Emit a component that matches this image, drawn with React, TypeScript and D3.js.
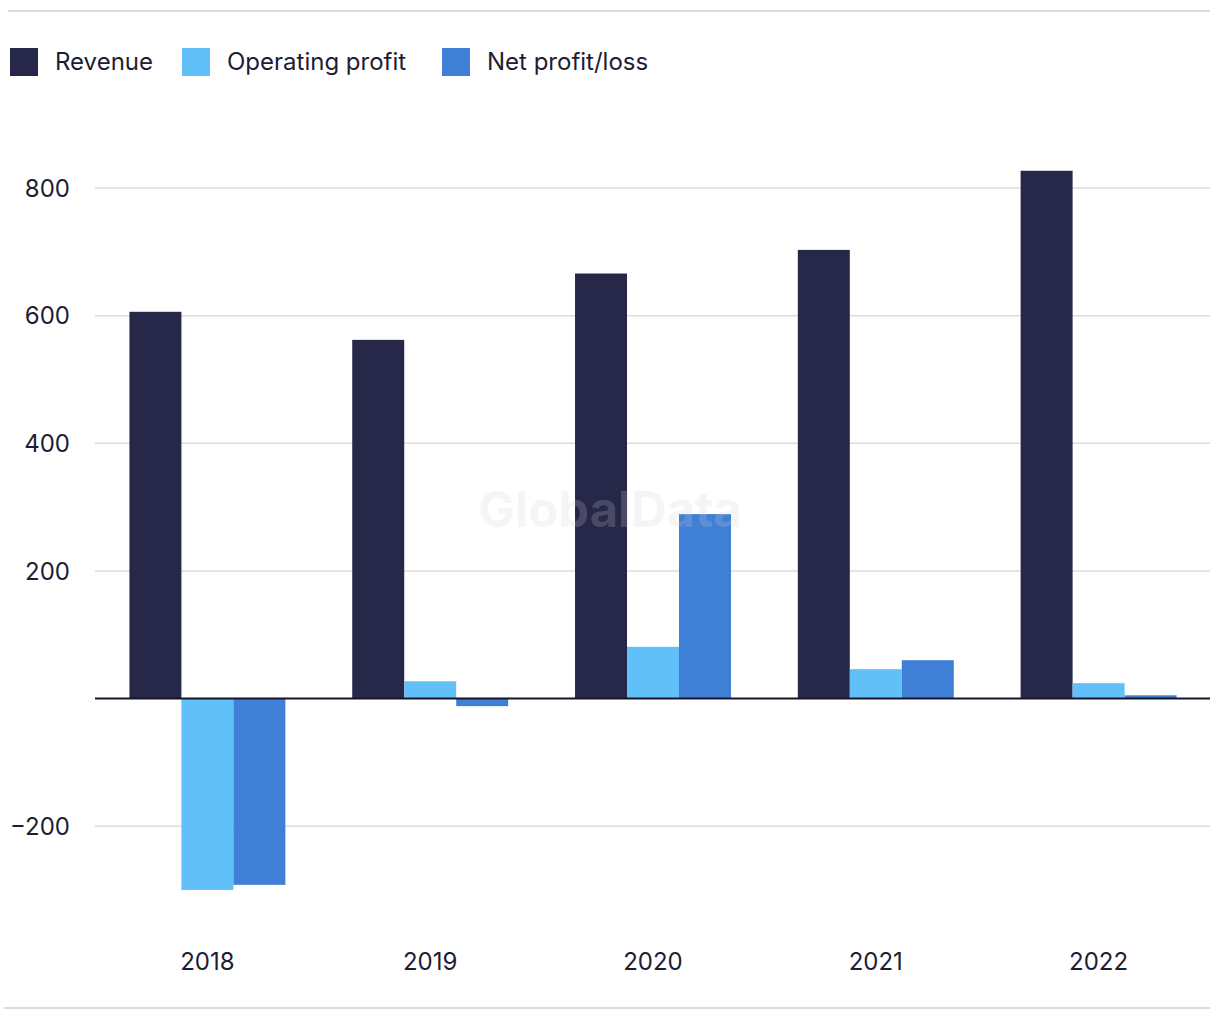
import React from "react";
import * as d3 from "d3";

const years = ["2018", "2019", "2020", "2021", "2022"];
const revenue = [606, 562, 666, 703, 827];
const operatingProfit = [-300, 27, 81, 46, 24];
const netProfit = [-292, -12, 289, 60, 5];
const seriesNames = ["Revenue", "Operating profit", "Net profit/loss"];
const seriesColors = ["#272849", "#62C0F8", "#407FD6"];
const yTicks = [-200, 200, 400, 600, 800];

const W = 1220;
const H = 1020;
const FONT = "Inter, 'Noto Sans', sans-serif";

export default function App() {
  const x = d3.scaleBand<string>().domain(years).range([96, 1210]).paddingInner(0.3).paddingOuter(0.15);
  const x1 = d3.scaleBand<string>().domain(seriesNames).range([0, x.bandwidth()]).padding(0);
  const y = d3.scaleLinear().domain([0, 800]).range([698.5, 188]);
  const series = [revenue, operatingProfit, netProfit];

  const legendX = [10, 182, 442];

  return (
    <svg width={W} height={H} style={{ position: "absolute", left: 0, top: 0, background: "#fff" }} fontFamily={FONT}>
      <line x1={8} x2={1210} y1={11} y2={11} stroke="#dcdcdc" strokeWidth={2} />
      <line x1={4} x2={1210} y1={1008} y2={1008} stroke="#dcdcdc" strokeWidth={2} />
      {seriesNames.map((n, i) => (
        <g key={n}>
          <rect x={legendX[i]} y={48} width={28} height={28} fill={seriesColors[i]} />
          <text x={legendX[i] + 45} y={70} fontSize={24} fill="#1d1d33" textLength={undefined}>{n}</text>
        </g>
      ))}
      {yTicks.map((t) => (
        <g key={t}>
          <line x1={95} x2={1210} y1={y(t)} y2={y(t)} stroke="#dcdcdc" strokeWidth={1.5} />
          <text x={70} y={y(t)} dy="0.36em" textAnchor="end" fontSize={24} fill="#1d1d33">
            {t < 0 ? "\u2212" + Math.abs(t) : t}
          </text>
        </g>
      ))}
      {years.map((yr, gi) => (
        <g key={yr} transform={`translate(${x(yr)},0)`}>
          {series.map((s, si) => {
            const v = s[gi];
            return (
              <rect
                key={si}
                x={x1(seriesNames[si])}
                width={x1.bandwidth()}
                y={Math.min(y(v), y(0))}
                height={Math.abs(y(v) - y(0))}
                fill={seriesColors[si]}
              />
            );
          })}
          <text x={x.bandwidth() / 2} y={970} textAnchor="middle" fontSize={24} fill="#1d1d33">{yr}</text>
        </g>
      ))}
      <line x1={95} x2={1210} y1={y(0)} y2={y(0)} stroke="#15152a" strokeWidth={2} />
      <text x={610} y={527} textAnchor="middle" fontSize={49} fontWeight={700} fill="#d0d0d0" opacity={0.2}>GlobalData</text>
    </svg>
  );
}
